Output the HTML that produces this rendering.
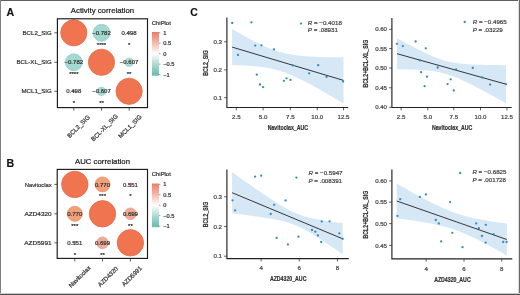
<!DOCTYPE html>
<html><head><meta charset="utf-8"><style>
html,body{margin:0;padding:0;background:#fff;}
body{width:520px;height:295px;overflow:hidden;position:relative;}
svg{position:absolute;left:0;top:0;will-change:transform;}
text{font-family:"Liberation Sans",sans-serif;}
.frame{position:absolute;left:0;top:0;width:518px;height:293px;border:1px solid #444;}
</style></head><body>
<svg width="520" height="295" viewBox="0 0 520 295">
<rect x="0" y="0" width="520" height="295" fill="#fff"/>
<text x="6.60" y="15.60" font-size="10.6" text-anchor="start" fill="#111" stroke="#111" stroke-width="0.15" font-weight="bold">A</text>
<text x="102.50" y="13.40" font-size="7.8" text-anchor="middle" fill="#222" stroke="#222" stroke-width="0.22" >Activity correlation</text>
<circle cx="73.8" cy="32.8" r="13.100000000000001" fill="#f17450" stroke="#e36a49" stroke-width="0.8"/>
<circle cx="101.5" cy="32.8" r="8.4" fill="#a3d9d1" stroke="#8ccac0" stroke-width="0.8"/>
<text x="101.50" y="34.90" font-size="6.0" text-anchor="middle" fill="#333" stroke="#333" stroke-width="0.22" >−0.782</text>
<text x="101.50" y="46.50" font-size="6.0" text-anchor="middle" fill="#333" stroke="#333" stroke-width="0.22" >****</text>
<circle cx="129.1" cy="32.8" r="1.6" fill="#f0b4bc"/>
<text x="129.10" y="34.90" font-size="6.0" text-anchor="middle" fill="#333" stroke="#333" stroke-width="0.22" >0.498</text>
<text x="129.10" y="46.50" font-size="6.0" text-anchor="middle" fill="#333" stroke="#333" stroke-width="0.22" >*</text>
<circle cx="73.8" cy="62.3" r="8.4" fill="#a3d9d1" stroke="#8ccac0" stroke-width="0.8"/>
<text x="73.80" y="64.40" font-size="6.0" text-anchor="middle" fill="#333" stroke="#333" stroke-width="0.22" >−0.782</text>
<text x="73.80" y="76.00" font-size="6.0" text-anchor="middle" fill="#333" stroke="#333" stroke-width="0.22" >****</text>
<circle cx="101.5" cy="62.3" r="13.100000000000001" fill="#f17450" stroke="#e36a49" stroke-width="0.8"/>
<circle cx="129.1" cy="62.3" r="4.1" fill="#a8dbd3" stroke="#93cdc4" stroke-width="0.8"/>
<text x="129.10" y="64.40" font-size="6.0" text-anchor="middle" fill="#333" stroke="#333" stroke-width="0.22" >−0.607</text>
<text x="129.10" y="76.00" font-size="6.0" text-anchor="middle" fill="#333" stroke="#333" stroke-width="0.22" >**</text>
<circle cx="73.8" cy="91.3" r="1.6" fill="#f0b4bc"/>
<text x="73.80" y="93.40" font-size="6.0" text-anchor="middle" fill="#333" stroke="#333" stroke-width="0.22" >0.498</text>
<text x="73.80" y="105.00" font-size="6.0" text-anchor="middle" fill="#333" stroke="#333" stroke-width="0.22" >*</text>
<circle cx="101.5" cy="91.3" r="4.1" fill="#a8dbd3" stroke="#93cdc4" stroke-width="0.8"/>
<text x="101.50" y="93.40" font-size="6.0" text-anchor="middle" fill="#333" stroke="#333" stroke-width="0.22" >−0.607</text>
<text x="101.50" y="105.00" font-size="6.0" text-anchor="middle" fill="#333" stroke="#333" stroke-width="0.22" >**</text>
<circle cx="129.1" cy="91.3" r="13.100000000000001" fill="#f17450" stroke="#e36a49" stroke-width="0.8"/>
<rect x="57.4" y="18.8" width="90.1" height="88.8" fill="none" stroke="#1a1a1a" stroke-width="1.15"/>
<line x1="54.4" y1="32.8" x2="57.4" y2="32.8" stroke="#333" stroke-width="0.8"/>
<text x="51.70" y="34.90" font-size="6.1" text-anchor="end" fill="#333" stroke="#333" stroke-width="0.22" >BCL2_SIG</text>
<line x1="54.4" y1="62.3" x2="57.4" y2="62.3" stroke="#333" stroke-width="0.8"/>
<text x="51.70" y="64.40" font-size="6.1" text-anchor="end" fill="#333" stroke="#333" stroke-width="0.22" >BCL-XL_SIG</text>
<line x1="54.4" y1="91.3" x2="57.4" y2="91.3" stroke="#333" stroke-width="0.8"/>
<text x="51.70" y="93.40" font-size="6.1" text-anchor="end" fill="#333" stroke="#333" stroke-width="0.22" >MCL1_SIG</text>
<line x1="73.8" y1="107.6" x2="73.8" y2="110.6" stroke="#333" stroke-width="0.8"/>
<text x="78.5" y="126.4" font-size="6.1" text-anchor="middle" fill="#333" stroke="#333" stroke-width="0.22" transform="rotate(-45 78.5 126.4)" dy="2.1">BCL2_SIG</text>
<line x1="101.5" y1="107.6" x2="101.5" y2="110.6" stroke="#333" stroke-width="0.8"/>
<text x="104.5" y="127.6" font-size="6.1" text-anchor="middle" fill="#333" stroke="#333" stroke-width="0.22" transform="rotate(-45 104.5 127.6)" dy="2.1">BCL-XL_SIG</text>
<line x1="129.1" y1="107.6" x2="129.1" y2="110.6" stroke="#333" stroke-width="0.8"/>
<text x="130" y="126.4" font-size="6.1" text-anchor="middle" fill="#333" stroke="#333" stroke-width="0.22" transform="rotate(-45 130 126.4)" dy="2.1">MCL1_SIG</text>
<text x="151.80" y="24.70" font-size="5.9" text-anchor="start" fill="#333" stroke="#333" stroke-width="0.22" >ChiPlot</text>
<defs><linearGradient id="g0" x1="0" y1="0" x2="0" y2="1"><stop offset="0" stop-color="#ec7b68"/><stop offset="0.25" stop-color="#f4b9a8"/><stop offset="0.5" stop-color="#ffffff"/><stop offset="0.75" stop-color="#a9d9d0"/><stop offset="1" stop-color="#63bcae"/></linearGradient></defs>
<rect x="151.9" y="32" width="7.1" height="43.7" fill="url(#g0)"/>
<line x1="159" y1="32.8" x2="160.4" y2="32.8" stroke="#555" stroke-width="0.6"/>
<text x="163.20" y="34.80" font-size="5.7" text-anchor="start" fill="#333" stroke="#333" stroke-width="0.22" >1</text>
<line x1="159" y1="43.25" x2="160.4" y2="43.25" stroke="#555" stroke-width="0.6"/>
<text x="163.20" y="45.25" font-size="5.7" text-anchor="start" fill="#333" stroke="#333" stroke-width="0.22" >0.5</text>
<line x1="159" y1="53.699999999999996" x2="160.4" y2="53.699999999999996" stroke="#555" stroke-width="0.6"/>
<text x="163.20" y="55.70" font-size="5.7" text-anchor="start" fill="#333" stroke="#333" stroke-width="0.22" >0</text>
<line x1="159" y1="64.14999999999999" x2="160.4" y2="64.14999999999999" stroke="#555" stroke-width="0.6"/>
<text x="163.20" y="66.15" font-size="5.7" text-anchor="start" fill="#333" stroke="#333" stroke-width="0.22" >−0.5</text>
<line x1="159" y1="74.6" x2="160.4" y2="74.6" stroke="#555" stroke-width="0.6"/>
<text x="163.20" y="76.60" font-size="5.7" text-anchor="start" fill="#333" stroke="#333" stroke-width="0.22" >−1</text>
<text x="6.60" y="166.70" font-size="10.6" text-anchor="start" fill="#111" stroke="#111" stroke-width="0.15" font-weight="bold">B</text>
<text x="102.50" y="164.20" font-size="7.8" text-anchor="middle" fill="#222" stroke="#222" stroke-width="0.22" >AUC correlation</text>
<circle cx="74.8" cy="184.4" r="13.200000000000001" fill="#f17450" stroke="#e36a49" stroke-width="0.8"/>
<circle cx="102.5" cy="184.4" r="7.5" fill="#f2a078" stroke="#e8946e" stroke-width="0.8"/>
<text x="102.50" y="186.50" font-size="6.0" text-anchor="middle" fill="#333" stroke="#333" stroke-width="0.22" >0.770</text>
<text x="102.50" y="198.10" font-size="6.0" text-anchor="middle" fill="#333" stroke="#333" stroke-width="0.22" >***</text>
<circle cx="130.4" cy="184.4" r="1.9" fill="#f5c4b4"/>
<text x="130.40" y="186.50" font-size="6.0" text-anchor="middle" fill="#333" stroke="#333" stroke-width="0.22" >0.551</text>
<text x="130.40" y="198.10" font-size="6.0" text-anchor="middle" fill="#333" stroke="#333" stroke-width="0.22" >*</text>
<circle cx="74.8" cy="213.8" r="7.5" fill="#f2a078" stroke="#e8946e" stroke-width="0.8"/>
<text x="74.80" y="215.90" font-size="6.0" text-anchor="middle" fill="#333" stroke="#333" stroke-width="0.22" >0.770</text>
<text x="74.80" y="227.50" font-size="6.0" text-anchor="middle" fill="#333" stroke="#333" stroke-width="0.22" >***</text>
<circle cx="102.5" cy="213.8" r="13.200000000000001" fill="#f17450" stroke="#e36a49" stroke-width="0.8"/>
<circle cx="130.4" cy="213.8" r="5.8" fill="#f0aa96" stroke="#e79c88" stroke-width="0.8"/>
<text x="130.40" y="215.90" font-size="6.0" text-anchor="middle" fill="#333" stroke="#333" stroke-width="0.22" >0.699</text>
<text x="130.40" y="227.50" font-size="6.0" text-anchor="middle" fill="#333" stroke="#333" stroke-width="0.22" >**</text>
<circle cx="74.8" cy="242.8" r="1.9" fill="#f5c4b4"/>
<text x="74.80" y="244.90" font-size="6.0" text-anchor="middle" fill="#333" stroke="#333" stroke-width="0.22" >0.551</text>
<text x="74.80" y="256.50" font-size="6.0" text-anchor="middle" fill="#333" stroke="#333" stroke-width="0.22" >*</text>
<circle cx="102.5" cy="242.8" r="5.8" fill="#f0aa96" stroke="#e79c88" stroke-width="0.8"/>
<text x="102.50" y="244.90" font-size="6.0" text-anchor="middle" fill="#333" stroke="#333" stroke-width="0.22" >0.699</text>
<text x="102.50" y="256.50" font-size="6.0" text-anchor="middle" fill="#333" stroke="#333" stroke-width="0.22" >**</text>
<circle cx="130.4" cy="242.8" r="13.200000000000001" fill="#f17450" stroke="#e36a49" stroke-width="0.8"/>
<rect x="57.2" y="169.4" width="90.3" height="88.99999999999997" fill="none" stroke="#1a1a1a" stroke-width="1.15"/>
<line x1="54.4" y1="184.4" x2="57.2" y2="184.4" stroke="#333" stroke-width="0.8"/>
<text x="51.70" y="186.50" font-size="6.1" text-anchor="end" fill="#333" stroke="#333" stroke-width="0.22" textLength="27.0" lengthAdjust="spacingAndGlyphs">Navitoclax</text>
<line x1="54.4" y1="213.8" x2="57.2" y2="213.8" stroke="#333" stroke-width="0.8"/>
<text x="51.70" y="215.90" font-size="6.1" text-anchor="end" fill="#333" stroke="#333" stroke-width="0.22" textLength="27.2" lengthAdjust="spacingAndGlyphs">AZD4320</text>
<line x1="54.4" y1="242.8" x2="57.2" y2="242.8" stroke="#333" stroke-width="0.8"/>
<text x="51.70" y="244.90" font-size="6.1" text-anchor="end" fill="#333" stroke="#333" stroke-width="0.22" textLength="27.4" lengthAdjust="spacingAndGlyphs">AZD5991</text>
<line x1="74.8" y1="258.4" x2="74.8" y2="261.4" stroke="#333" stroke-width="0.8"/>
<text x="79.7" y="276.6" font-size="6.1" text-anchor="middle" fill="#333" stroke="#333" stroke-width="0.22" transform="rotate(-45 79.7 276.6)" dy="2.1">Navitoclax</text>
<line x1="102.5" y1="258.4" x2="102.5" y2="261.4" stroke="#333" stroke-width="0.8"/>
<text x="107.9" y="276.6" font-size="6.1" text-anchor="middle" fill="#333" stroke="#333" stroke-width="0.22" transform="rotate(-45 107.9 276.6)" dy="2.1">AZD4320</text>
<line x1="130.4" y1="258.4" x2="130.4" y2="261.4" stroke="#333" stroke-width="0.8"/>
<text x="131.8" y="276.2" font-size="6.1" text-anchor="middle" fill="#333" stroke="#333" stroke-width="0.22" transform="rotate(-45 131.8 276.2)" dy="2.1">AZD5991</text>
<text x="151.80" y="176.20" font-size="5.9" text-anchor="start" fill="#333" stroke="#333" stroke-width="0.22" >ChiPlot</text>
<defs><linearGradient id="g151" x1="0" y1="0" x2="0" y2="1"><stop offset="0" stop-color="#ec7b68"/><stop offset="0.25" stop-color="#f4b9a8"/><stop offset="0.5" stop-color="#ffffff"/><stop offset="0.75" stop-color="#a9d9d0"/><stop offset="1" stop-color="#63bcae"/></linearGradient></defs>
<rect x="151.9" y="183.5" width="7.1" height="43.7" fill="url(#g151)"/>
<line x1="159" y1="184.3" x2="160.4" y2="184.3" stroke="#555" stroke-width="0.6"/>
<text x="163.20" y="186.30" font-size="5.7" text-anchor="start" fill="#333" stroke="#333" stroke-width="0.22" >1</text>
<line x1="159" y1="194.75" x2="160.4" y2="194.75" stroke="#555" stroke-width="0.6"/>
<text x="163.20" y="196.75" font-size="5.7" text-anchor="start" fill="#333" stroke="#333" stroke-width="0.22" >0.5</text>
<line x1="159" y1="205.20000000000002" x2="160.4" y2="205.20000000000002" stroke="#555" stroke-width="0.6"/>
<text x="163.20" y="207.20" font-size="5.7" text-anchor="start" fill="#333" stroke="#333" stroke-width="0.22" >0</text>
<line x1="159" y1="215.65" x2="160.4" y2="215.65" stroke="#555" stroke-width="0.6"/>
<text x="163.20" y="217.65" font-size="5.7" text-anchor="start" fill="#333" stroke="#333" stroke-width="0.22" >−0.5</text>
<line x1="159" y1="226.10000000000002" x2="160.4" y2="226.10000000000002" stroke="#555" stroke-width="0.6"/>
<text x="163.20" y="228.10" font-size="5.7" text-anchor="start" fill="#333" stroke="#333" stroke-width="0.22" >−1</text>
<text x="190.20" y="15.70" font-size="10.4" text-anchor="start" fill="#111" stroke="#111" stroke-width="0.15" font-weight="bold">C</text>
<path d="M232.10,29.12 L234.88,30.72 L237.67,32.30 L240.45,33.87 L243.24,35.41 L246.03,36.94 L248.81,38.43 L251.59,39.90 L254.38,41.34 L257.17,42.74 L259.95,44.09 L262.74,45.39 L265.52,46.64 L268.31,47.82 L271.09,48.92 L273.88,49.96 L276.66,50.90 L279.44,51.76 L282.23,52.54 L285.01,53.23 L287.80,53.84 L290.58,54.37 L293.37,54.84 L296.15,55.24 L298.94,55.58 L301.73,55.88 L304.51,56.14 L307.30,56.35 L310.08,56.54 L312.87,56.70 L315.65,56.83 L318.44,56.94 L321.22,57.04 L324.00,57.12 L326.79,57.18 L329.57,57.23 L332.36,57.28 L335.14,57.31 L337.93,57.33 L340.72,57.35 L343.50,57.36 L343.50,103.44 L340.72,101.79 L337.93,100.14 L335.14,98.50 L332.36,96.86 L329.57,95.24 L326.79,93.63 L324.00,92.03 L321.22,90.44 L318.44,88.87 L315.65,87.32 L312.87,85.79 L310.08,84.28 L307.30,82.80 L304.51,81.35 L301.73,79.94 L298.94,78.58 L296.15,77.26 L293.37,75.99 L290.58,74.79 L287.80,73.66 L285.01,72.60 L282.23,71.63 L279.44,70.74 L276.66,69.94 L273.88,69.22 L271.09,68.59 L268.31,68.03 L265.52,67.54 L262.74,67.12 L259.95,66.76 L257.17,66.45 L254.38,66.18 L251.59,65.95 L248.81,65.76 L246.03,65.59 L243.24,65.45 L240.45,65.33 L237.67,65.23 L234.88,65.15 L232.10,65.08 Z" fill="#d6e7f6"/>
<line x1="232.1" y1="47.1" x2="343.5" y2="80.4" stroke="#222" stroke-width="0.9"/>
<circle cx="232.2" cy="23" r="1.15" fill="#3889c0"/>
<circle cx="251.4" cy="22.3" r="1.15" fill="#3889c0"/>
<circle cx="255.2" cy="45.6" r="1.15" fill="#3889c0"/>
<circle cx="261.4" cy="45.3" r="1.15" fill="#3889c0"/>
<circle cx="274.0" cy="49.4" r="1.15" fill="#3889c0"/>
<circle cx="238.0" cy="54.9" r="1.15" fill="#3889c0"/>
<circle cx="301" cy="23.6" r="1.15" fill="#3889c0"/>
<circle cx="256.8" cy="74.7" r="1.15" fill="#3889c0"/>
<circle cx="260.0" cy="84.5" r="1.15" fill="#3889c0"/>
<circle cx="263.1" cy="87.1" r="1.15" fill="#3889c0"/>
<circle cx="292.8" cy="65.4" r="1.15" fill="#3889c0"/>
<circle cx="318.2" cy="65.2" r="1.15" fill="#3889c0"/>
<circle cx="309.1" cy="73.3" r="1.15" fill="#3889c0"/>
<circle cx="326.6" cy="76.9" r="1.15" fill="#3889c0"/>
<circle cx="343.1" cy="81.5" r="1.15" fill="#3889c0"/>
<circle cx="283.9" cy="80.8" r="1.15" fill="#3889c0"/>
<circle cx="286.5" cy="78.3" r="1.15" fill="#3889c0"/>
<circle cx="290.5" cy="79.9" r="1.15" fill="#3889c0"/>
<path d="M226.9,17.6 L226.9,107.5 L348.2,107.5" fill="none" stroke="#222" stroke-width="1.15"/>
<line x1="224.1" y1="97.7" x2="226.9" y2="97.7" stroke="#333" stroke-width="0.8"/>
<text x="222.00" y="99.80" font-size="6.1" text-anchor="end" fill="#444" stroke="#444" stroke-width="0.22" >0.1</text>
<line x1="224.1" y1="69.9" x2="226.9" y2="69.9" stroke="#333" stroke-width="0.8"/>
<text x="222.00" y="72.00" font-size="6.1" text-anchor="end" fill="#444" stroke="#444" stroke-width="0.22" >0.2</text>
<line x1="224.1" y1="41.8" x2="226.9" y2="41.8" stroke="#333" stroke-width="0.8"/>
<text x="222.00" y="43.90" font-size="6.1" text-anchor="end" fill="#444" stroke="#444" stroke-width="0.22" >0.3</text>
<line x1="236.3" y1="107.5" x2="236.3" y2="110.3" stroke="#333" stroke-width="0.8"/>
<text x="236.30" y="119.30" font-size="6.1" text-anchor="middle" fill="#444" stroke="#444" stroke-width="0.22" >2.5</text>
<line x1="263.1" y1="107.5" x2="263.1" y2="110.3" stroke="#333" stroke-width="0.8"/>
<text x="263.10" y="119.30" font-size="6.1" text-anchor="middle" fill="#444" stroke="#444" stroke-width="0.22" >5.0</text>
<line x1="290.3" y1="107.5" x2="290.3" y2="110.3" stroke="#333" stroke-width="0.8"/>
<text x="290.30" y="119.30" font-size="6.1" text-anchor="middle" fill="#444" stroke="#444" stroke-width="0.22" >7.5</text>
<line x1="317.3" y1="107.5" x2="317.3" y2="110.3" stroke="#333" stroke-width="0.8"/>
<text x="317.30" y="119.30" font-size="6.1" text-anchor="middle" fill="#444" stroke="#444" stroke-width="0.22" >10.0</text>
<line x1="343.5" y1="107.5" x2="343.5" y2="110.3" stroke="#333" stroke-width="0.8"/>
<text x="343.50" y="119.30" font-size="6.1" text-anchor="middle" fill="#444" stroke="#444" stroke-width="0.22" >12.5</text>
<text x="0" y="0" font-size="7.8" text-anchor="middle" fill="#333" stroke="#333" stroke-width="0.25" font-weight="bold" transform="translate(287.85 130.2) scale(0.67 1)">Navitoclax_AUC</text>
<text x="0" y="0" font-size="7.8" text-anchor="middle" fill="#333" stroke="#333" stroke-width="0.25" font-weight="bold" transform="translate(208.0 62.9) rotate(-90) scale(0.67 1)">BCL2_SIG</text>
<text x="307.8" y="24.6" font-size="6.2" fill="#444" stroke="#444" stroke-width="0.22"><tspan font-style="italic">R</tspan> = −0.4018</text>
<text x="307.8" y="32.4" font-size="6.2" fill="#444" stroke="#444" stroke-width="0.22"><tspan font-style="italic">P</tspan> = .08931</text>
<path d="M397.00,38.20 L399.73,39.69 L402.45,41.16 L405.18,42.63 L407.90,44.09 L410.62,45.53 L413.35,46.95 L416.07,48.36 L418.80,49.75 L421.52,51.11 L424.25,52.44 L426.98,53.72 L429.70,54.97 L432.43,56.16 L435.15,57.28 L437.88,58.33 L440.60,59.29 L443.32,60.16 L446.05,60.94 L448.77,61.61 L451.50,62.19 L454.23,62.69 L456.95,63.11 L459.68,63.46 L462.40,63.75 L465.12,64.00 L467.85,64.20 L470.57,64.38 L473.30,64.52 L476.02,64.64 L478.75,64.74 L481.48,64.83 L484.20,64.90 L486.93,64.96 L489.65,65.02 L492.38,65.06 L495.10,65.09 L497.82,65.12 L500.55,65.14 L503.27,65.16 L506.00,65.17 L506.00,103.23 L503.27,101.71 L500.55,100.21 L497.82,98.70 L495.10,97.21 L492.38,95.72 L489.65,94.23 L486.93,92.76 L484.20,91.30 L481.48,89.84 L478.75,88.41 L476.02,86.98 L473.30,85.58 L470.57,84.20 L467.85,82.85 L465.12,81.53 L462.40,80.25 L459.68,79.02 L456.95,77.84 L454.23,76.74 L451.50,75.71 L448.77,74.76 L446.05,73.91 L443.32,73.16 L440.60,72.51 L437.88,71.95 L435.15,71.47 L432.43,71.07 L429.70,70.73 L426.98,70.45 L424.25,70.21 L421.52,70.02 L418.80,69.85 L416.07,69.71 L413.35,69.60 L410.62,69.50 L407.90,69.41 L405.18,69.34 L402.45,69.29 L399.73,69.24 L397.00,69.20 Z" fill="#d6e7f6"/>
<line x1="397" y1="53.7" x2="506" y2="84.2" stroke="#222" stroke-width="0.9"/>
<circle cx="396.9" cy="43.8" r="1.15" fill="#3889c0"/>
<circle cx="402.8" cy="46.1" r="1.15" fill="#3889c0"/>
<circle cx="415.6" cy="41.5" r="1.15" fill="#3889c0"/>
<circle cx="425.8" cy="48.3" r="1.15" fill="#3889c0"/>
<circle cx="419.9" cy="60.4" r="1.15" fill="#3889c0"/>
<circle cx="421.1" cy="72.2" r="1.15" fill="#3889c0"/>
<circle cx="427.0" cy="76.7" r="1.15" fill="#3889c0"/>
<circle cx="424.6" cy="86.2" r="1.15" fill="#3889c0"/>
<circle cx="437.7" cy="67.5" r="1.15" fill="#3889c0"/>
<circle cx="450.7" cy="79.3" r="1.15" fill="#3889c0"/>
<circle cx="447.6" cy="84.1" r="1.15" fill="#3889c0"/>
<circle cx="453.8" cy="90.5" r="1.15" fill="#3889c0"/>
<circle cx="456.1" cy="69.3" r="1.15" fill="#3889c0"/>
<circle cx="472.8" cy="67.9" r="1.15" fill="#3889c0"/>
<circle cx="482.1" cy="77.5" r="1.15" fill="#3889c0"/>
<circle cx="490.1" cy="84.6" r="1.15" fill="#3889c0"/>
<circle cx="505.9" cy="84.2" r="1.15" fill="#3889c0"/>
<circle cx="464.7" cy="22" r="1.15" fill="#3889c0"/>
<path d="M391.9,18.1 L391.9,107.5 L511.7,107.5" fill="none" stroke="#222" stroke-width="1.15"/>
<line x1="389.09999999999997" y1="107.3" x2="391.9" y2="107.3" stroke="#333" stroke-width="0.8"/>
<text x="387.00" y="109.40" font-size="6.1" text-anchor="end" fill="#444" stroke="#444" stroke-width="0.22" >0.40</text>
<line x1="389.09999999999997" y1="87.8" x2="391.9" y2="87.8" stroke="#333" stroke-width="0.8"/>
<text x="387.00" y="89.90" font-size="6.1" text-anchor="end" fill="#444" stroke="#444" stroke-width="0.22" >0.45</text>
<line x1="389.09999999999997" y1="68.0" x2="391.9" y2="68.0" stroke="#333" stroke-width="0.8"/>
<text x="387.00" y="70.10" font-size="6.1" text-anchor="end" fill="#444" stroke="#444" stroke-width="0.22" >0.50</text>
<line x1="389.09999999999997" y1="48.6" x2="391.9" y2="48.6" stroke="#333" stroke-width="0.8"/>
<text x="387.00" y="50.70" font-size="6.1" text-anchor="end" fill="#444" stroke="#444" stroke-width="0.22" >0.55</text>
<line x1="389.09999999999997" y1="29.3" x2="391.9" y2="29.3" stroke="#333" stroke-width="0.8"/>
<text x="387.00" y="31.40" font-size="6.1" text-anchor="end" fill="#444" stroke="#444" stroke-width="0.22" >0.60</text>
<line x1="401.1" y1="107.5" x2="401.1" y2="110.3" stroke="#333" stroke-width="0.8"/>
<text x="401.10" y="119.30" font-size="6.1" text-anchor="middle" fill="#444" stroke="#444" stroke-width="0.22" >2.5</text>
<line x1="427.8" y1="107.5" x2="427.8" y2="110.3" stroke="#333" stroke-width="0.8"/>
<text x="427.80" y="119.30" font-size="6.1" text-anchor="middle" fill="#444" stroke="#444" stroke-width="0.22" >5.0</text>
<line x1="453.8" y1="107.5" x2="453.8" y2="110.3" stroke="#333" stroke-width="0.8"/>
<text x="453.80" y="119.30" font-size="6.1" text-anchor="middle" fill="#444" stroke="#444" stroke-width="0.22" >7.5</text>
<line x1="480.5" y1="107.5" x2="480.5" y2="110.3" stroke="#333" stroke-width="0.8"/>
<text x="480.50" y="119.30" font-size="6.1" text-anchor="middle" fill="#444" stroke="#444" stroke-width="0.22" >10.0</text>
<line x1="507.0" y1="107.5" x2="507.0" y2="110.3" stroke="#333" stroke-width="0.8"/>
<text x="507.00" y="119.30" font-size="6.1" text-anchor="middle" fill="#444" stroke="#444" stroke-width="0.22" >12.5</text>
<text x="0" y="0" font-size="7.8" text-anchor="middle" fill="#333" stroke="#333" stroke-width="0.25" font-weight="bold" transform="translate(452.09999999999997 130.2) scale(0.67 1)">Navitoclax_AUC</text>
<text x="0" y="0" font-size="7.8" text-anchor="middle" fill="#333" stroke="#333" stroke-width="0.25" font-weight="bold" transform="translate(368.0 63.6) rotate(-90) scale(0.67 1)">BCL2+BCL-XL_SIG</text>
<text x="472.7" y="23.9" font-size="6.2" fill="#444" stroke="#444" stroke-width="0.22"><tspan font-style="italic">R</tspan> = −0.4965</text>
<text x="472.7" y="31.7" font-size="6.2" fill="#444" stroke="#444" stroke-width="0.22"><tspan font-style="italic">P</tspan> = .03229</text>
<path d="M232.10,172.11 L234.86,174.08 L237.63,176.04 L240.39,178.00 L243.16,179.95 L245.92,181.90 L248.69,183.85 L251.45,185.78 L254.22,187.71 L256.99,189.63 L259.75,191.54 L262.51,193.44 L265.28,195.32 L268.05,197.18 L270.81,199.02 L273.57,200.83 L276.34,202.61 L279.11,204.35 L281.87,206.03 L284.63,207.65 L287.40,209.19 L290.16,210.64 L292.93,211.98 L295.69,213.21 L298.46,214.31 L301.23,215.30 L303.99,216.18 L306.75,216.96 L309.52,217.66 L312.28,218.30 L315.05,218.88 L317.81,219.42 L320.58,219.92 L323.34,220.39 L326.11,220.83 L328.88,221.26 L331.64,221.67 L334.40,222.07 L337.17,222.46 L339.94,222.84 L342.70,223.21 L342.70,254.39 L339.94,252.46 L337.17,250.53 L334.40,248.61 L331.64,246.71 L328.88,244.81 L326.11,242.94 L323.34,241.08 L320.58,239.24 L317.81,237.44 L315.05,235.67 L312.28,233.95 L309.52,232.28 L306.75,230.67 L303.99,229.15 L301.23,227.72 L298.46,226.41 L295.69,225.21 L292.93,224.13 L290.16,223.17 L287.40,222.31 L284.63,221.55 L281.87,220.86 L279.11,220.24 L276.34,219.67 L273.57,219.14 L270.81,218.65 L268.05,218.18 L265.28,217.74 L262.51,217.32 L259.75,216.91 L256.99,216.51 L254.22,216.13 L251.45,215.75 L248.69,215.38 L245.92,215.02 L243.16,214.67 L240.39,214.32 L237.63,213.97 L234.86,213.63 L232.10,213.29 Z" fill="#d6e7f6"/>
<line x1="232.1" y1="192.7" x2="342.7" y2="238.8" stroke="#222" stroke-width="0.9"/>
<circle cx="255.1" cy="176.6" r="1.15" fill="#3889c0"/>
<circle cx="261.2" cy="175.7" r="1.15" fill="#3889c0"/>
<circle cx="232.5" cy="200.3" r="1.15" fill="#3889c0"/>
<circle cx="235.1" cy="210.3" r="1.15" fill="#3889c0"/>
<circle cx="296.4" cy="177.6" r="1.15" fill="#3889c0"/>
<circle cx="285.6" cy="200.4" r="1.15" fill="#3889c0"/>
<circle cx="274.2" cy="204.8" r="1.15" fill="#3889c0"/>
<circle cx="270.7" cy="214.0" r="1.15" fill="#3889c0"/>
<circle cx="321.7" cy="221.4" r="1.15" fill="#3889c0"/>
<circle cx="329.6" cy="221.3" r="1.15" fill="#3889c0"/>
<circle cx="276.6" cy="237.9" r="1.15" fill="#3889c0"/>
<circle cx="287.9" cy="244.4" r="1.15" fill="#3889c0"/>
<circle cx="298.5" cy="236.7" r="1.15" fill="#3889c0"/>
<circle cx="312.0" cy="230.0" r="1.15" fill="#3889c0"/>
<circle cx="315.3" cy="231.7" r="1.15" fill="#3889c0"/>
<circle cx="317.9" cy="235.4" r="1.15" fill="#3889c0"/>
<circle cx="321.2" cy="242.0" r="1.15" fill="#3889c0"/>
<circle cx="339.3" cy="233.3" r="1.15" fill="#3889c0"/>
<circle cx="342.7" cy="238.8" r="1.15" fill="#3889c0"/>
<path d="M226.9,169.5 L226.9,258.6 L348.8,258.6" fill="none" stroke="#222" stroke-width="1.15"/>
<line x1="224.1" y1="256.2" x2="226.9" y2="256.2" stroke="#333" stroke-width="0.8"/>
<text x="222.00" y="258.30" font-size="6.1" text-anchor="end" fill="#444" stroke="#444" stroke-width="0.22" >0.1</text>
<line x1="224.1" y1="226.5" x2="226.9" y2="226.5" stroke="#333" stroke-width="0.8"/>
<text x="222.00" y="228.60" font-size="6.1" text-anchor="end" fill="#444" stroke="#444" stroke-width="0.22" >0.2</text>
<line x1="224.1" y1="196.8" x2="226.9" y2="196.8" stroke="#333" stroke-width="0.8"/>
<text x="222.00" y="198.90" font-size="6.1" text-anchor="end" fill="#444" stroke="#444" stroke-width="0.22" >0.3</text>
<line x1="261.1" y1="258.6" x2="261.1" y2="261.40000000000003" stroke="#333" stroke-width="0.8"/>
<text x="261.10" y="270.40" font-size="6.1" text-anchor="middle" fill="#444" stroke="#444" stroke-width="0.22" >4</text>
<line x1="299.3" y1="258.6" x2="299.3" y2="261.40000000000003" stroke="#333" stroke-width="0.8"/>
<text x="299.30" y="270.40" font-size="6.1" text-anchor="middle" fill="#444" stroke="#444" stroke-width="0.22" >6</text>
<line x1="337.4" y1="258.6" x2="337.4" y2="261.40000000000003" stroke="#333" stroke-width="0.8"/>
<text x="337.40" y="270.40" font-size="6.1" text-anchor="middle" fill="#444" stroke="#444" stroke-width="0.22" >8</text>
<text x="0" y="0" font-size="7.8" text-anchor="middle" fill="#333" stroke="#333" stroke-width="0.25" font-weight="bold" transform="translate(288.15000000000003 281.3) scale(0.67 1)">AZD4320_AUC</text>
<text x="0" y="0" font-size="7.8" text-anchor="middle" fill="#333" stroke="#333" stroke-width="0.25" font-weight="bold" transform="translate(208.0 214.4) rotate(-90) scale(0.67 1)">BCL2_SIG</text>
<text x="308.5" y="175.1" font-size="6.2" fill="#444" stroke="#444" stroke-width="0.22"><tspan font-style="italic">R</tspan> = −0.5947</text>
<text x="308.5" y="182.9" font-size="6.2" fill="#444" stroke="#444" stroke-width="0.22"><tspan font-style="italic">P</tspan> = .008391</text>
<path d="M396.80,183.61 L399.55,185.20 L402.30,186.77 L405.05,188.34 L407.80,189.90 L410.55,191.45 L413.30,192.98 L416.05,194.50 L418.80,196.01 L421.55,197.49 L424.30,198.96 L427.05,200.40 L429.80,201.82 L432.55,203.20 L435.30,204.56 L438.05,205.87 L440.80,207.14 L443.55,208.37 L446.30,209.54 L449.05,210.66 L451.80,211.72 L454.55,212.73 L457.30,213.67 L460.05,214.55 L462.80,215.37 L465.55,216.14 L468.30,216.86 L471.05,217.53 L473.80,218.15 L476.55,218.74 L479.30,219.28 L482.05,219.80 L484.80,220.29 L487.55,220.76 L490.30,221.21 L493.05,221.63 L495.80,222.04 L498.55,222.44 L501.30,222.82 L504.05,223.19 L506.80,223.55 L506.80,255.45 L504.05,253.89 L501.30,252.33 L498.55,250.79 L495.80,249.26 L493.05,247.74 L490.30,246.24 L487.55,244.76 L484.80,243.31 L482.05,241.87 L479.30,240.47 L476.55,239.09 L473.80,237.75 L471.05,236.45 L468.30,235.19 L465.55,233.98 L462.80,232.83 L460.05,231.72 L457.30,230.68 L454.55,229.70 L451.80,228.78 L449.05,227.91 L446.30,227.11 L443.55,226.36 L440.80,225.66 L438.05,225.00 L435.30,224.39 L432.55,223.82 L429.80,223.28 L427.05,222.77 L424.30,222.29 L421.55,221.83 L418.80,221.39 L416.05,220.97 L413.30,220.57 L410.55,220.18 L407.80,219.80 L405.05,219.43 L402.30,219.08 L399.55,218.73 L396.80,218.39 Z" fill="#d6e7f6"/>
<line x1="396.8" y1="201.0" x2="506.8" y2="239.5" stroke="#222" stroke-width="0.9"/>
<circle cx="460.2" cy="173" r="1.15" fill="#3889c0"/>
<circle cx="400.2" cy="199.2" r="1.15" fill="#3889c0"/>
<circle cx="397.4" cy="215.9" r="1.15" fill="#3889c0"/>
<circle cx="419.9" cy="196.9" r="1.15" fill="#3889c0"/>
<circle cx="425.9" cy="194.5" r="1.15" fill="#3889c0"/>
<circle cx="450.1" cy="202.1" r="1.15" fill="#3889c0"/>
<circle cx="435.8" cy="220.0" r="1.15" fill="#3889c0"/>
<circle cx="438.8" cy="223.5" r="1.15" fill="#3889c0"/>
<circle cx="452.3" cy="232.8" r="1.15" fill="#3889c0"/>
<circle cx="441.2" cy="241.4" r="1.15" fill="#3889c0"/>
<circle cx="462.5" cy="247.2" r="1.15" fill="#3889c0"/>
<circle cx="476.2" cy="223.4" r="1.15" fill="#3889c0"/>
<circle cx="478.9" cy="228.2" r="1.15" fill="#3889c0"/>
<circle cx="485.8" cy="224.8" r="1.15" fill="#3889c0"/>
<circle cx="481.9" cy="236.0" r="1.15" fill="#3889c0"/>
<circle cx="485.6" cy="242.6" r="1.15" fill="#3889c0"/>
<circle cx="493.6" cy="234.2" r="1.15" fill="#3889c0"/>
<circle cx="503.2" cy="242" r="1.15" fill="#3889c0"/>
<circle cx="506.6" cy="242" r="1.15" fill="#3889c0"/>
<path d="M391.9,169.5 L391.9,258.8 L512.3,258.8" fill="none" stroke="#222" stroke-width="1.15"/>
<line x1="389.09999999999997" y1="245.4" x2="391.9" y2="245.4" stroke="#333" stroke-width="0.8"/>
<text x="387.00" y="247.50" font-size="6.1" text-anchor="end" fill="#444" stroke="#444" stroke-width="0.22" >0.45</text>
<line x1="389.09999999999997" y1="223.6" x2="391.9" y2="223.6" stroke="#333" stroke-width="0.8"/>
<text x="387.00" y="225.70" font-size="6.1" text-anchor="end" fill="#444" stroke="#444" stroke-width="0.22" >0.50</text>
<line x1="389.09999999999997" y1="202.2" x2="391.9" y2="202.2" stroke="#333" stroke-width="0.8"/>
<text x="387.00" y="204.30" font-size="6.1" text-anchor="end" fill="#444" stroke="#444" stroke-width="0.22" >0.55</text>
<line x1="389.09999999999997" y1="180.9" x2="391.9" y2="180.9" stroke="#333" stroke-width="0.8"/>
<text x="387.00" y="183.00" font-size="6.1" text-anchor="end" fill="#444" stroke="#444" stroke-width="0.22" >0.60</text>
<line x1="426.2" y1="258.8" x2="426.2" y2="261.6" stroke="#333" stroke-width="0.8"/>
<text x="426.20" y="270.60" font-size="6.1" text-anchor="middle" fill="#444" stroke="#444" stroke-width="0.22" >4</text>
<line x1="464.0" y1="258.8" x2="464.0" y2="261.6" stroke="#333" stroke-width="0.8"/>
<text x="464.00" y="270.60" font-size="6.1" text-anchor="middle" fill="#444" stroke="#444" stroke-width="0.22" >6</text>
<line x1="501.7" y1="258.8" x2="501.7" y2="261.6" stroke="#333" stroke-width="0.8"/>
<text x="501.70" y="270.60" font-size="6.1" text-anchor="middle" fill="#444" stroke="#444" stroke-width="0.22" >8</text>
<text x="0" y="0" font-size="7.8" text-anchor="middle" fill="#333" stroke="#333" stroke-width="0.25" font-weight="bold" transform="translate(452.4 281.5) scale(0.67 1)">AZD4320_AUC</text>
<text x="0" y="0" font-size="7.8" text-anchor="middle" fill="#333" stroke="#333" stroke-width="0.25" font-weight="bold" transform="translate(368.0 214.6) rotate(-90) scale(0.67 1)">BCL2+BCL-XL_SIG</text>
<text x="472.4" y="174.3" font-size="6.2" fill="#444" stroke="#444" stroke-width="0.22"><tspan font-style="italic">R</tspan> = −0.6825</text>
<text x="472.4" y="182.10000000000002" font-size="6.2" fill="#444" stroke="#444" stroke-width="0.22"><tspan font-style="italic">P</tspan> = .001728</text>
<rect x="0" y="0" width="520" height="1" fill="#5e5e5e"/>
<rect x="0" y="0" width="1" height="295" fill="#808080"/>
<rect x="519" y="0" width="1" height="295" fill="#6a6a6a"/>
<rect x="518" y="0" width="1" height="295" fill="#dcdcdc"/>
<rect x="0" y="294" width="520" height="1" fill="#505050"/>
<rect x="0" y="293" width="520" height="1" fill="#c8c8c8"/>
</svg>
</body></html>
